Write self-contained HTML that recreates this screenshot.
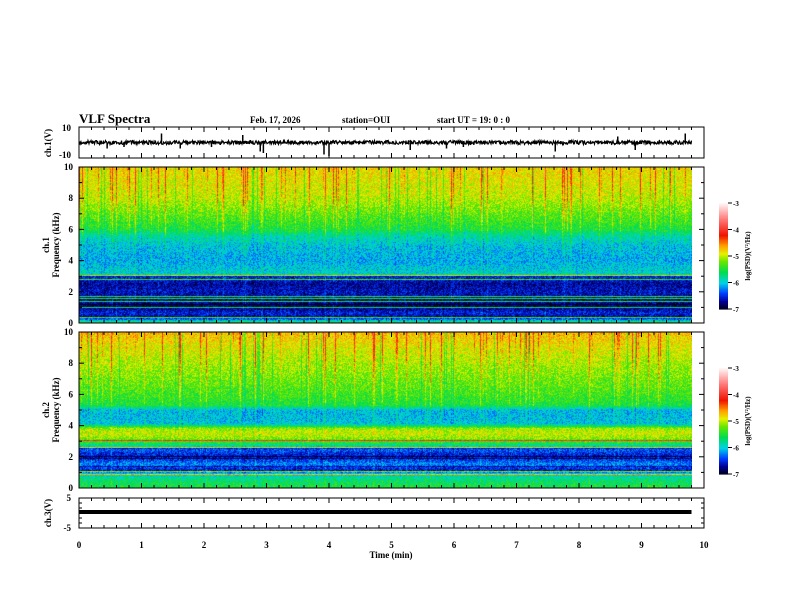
<!DOCTYPE html>
<html><head><meta charset="utf-8">
<style>
html,body{margin:0;padding:0;background:#fff;}
#wrap{position:relative;width:792px;height:612px;overflow:hidden;font-family:"Liberation Serif",serif;}
canvas{position:absolute;}
svg{position:absolute;left:0;top:0;}
text{font-family:"Liberation Serif",serif;font-weight:bold;fill:#000;}
</style></head><body>
<div id="wrap">
<canvas id="spec1" width="613" height="156" style="left:79px;top:167px"></canvas>
<canvas id="spec2" width="613" height="156" style="left:79px;top:332px"></canvas>
<svg id="fig" width="792" height="612"></svg>
</div>
<script>
// ---- data ----
const timeTicks = [0,1,2,3,4,5,6,7,8,9,10];
const freqTicks = [0,2,4,6,8,10];
const cbarTicks = [-3,-4,-5,-6,-7];
const ch1Freq = [0, 0.2, 0.4, 0.6, 1.0, 1.5, 2.0, 2.5, 2.9, 3.1, 3.5, 4.0, 5.0, 5.6, 6.0, 7.0, 8.0, 9.0, 10.0];
const ch1Level = [-5.5,-6.3,-6.7,-6.5,-6.8,-6.7,-6.6,-6.7,-6.5,-5.9,-6.0,-6.1,-6.0,-5.8,-5.5,-5.25,-5.0,-4.9,-4.8];
const ch2Freq = [0, 0.5, 0.9, 1.1, 1.5, 2.0, 2.5, 2.8, 3.2, 3.5, 3.8, 4.1, 5.0, 5.3, 6.0, 7.0, 8.0, 9.0, 10.0];
const ch2Level = [-5.5,-5.7,-6.0,-6.6,-6.2,-6.6,-6.3,-5.6,-5.1,-4.95,-5.1,-6.0,-6.05,-5.5,-5.35,-5.2,-5.05,-4.9,-4.7];
const spikeTimes = [0.45,0.72,1.32,1.62,2.12,2.62,2.9,2.95,3.92,4.0,5.3,5.88,6.15,7.62,8.62,8.9,9.7];
const spikeVals  = [-4,-3,6,-4,-3,5,-6,-7,-8,-9,-5,-4,-3,-6,4,-5,6];
const ch3Value = 0;
const tEnd = 9.8;

const X0=79, X1=704;
const xs = t => X0 + (t/10)*(X1-X0);
const NS='http://www.w3.org/2000/svg';
const svg=document.getElementById('fig');
function el(tag,attrs,parent){const e=document.createElementNS(NS,tag);for(const k in attrs)e.setAttribute(k,attrs[k]);(parent||svg).appendChild(e);return e;}
function txt(x,y,s,size,anchor,name,rot){const e=el('text',{x:x,y:y,'font-size':size,'text-anchor':anchor||'start'});if(rot)e.setAttribute('transform',`rotate(-90 ${x} ${y})`);e.textContent=s;

return e;}

const cstops=[[-7,[0,0,20]],[-6.7,[0,0,150]],[-6.4,[0,60,255]],[-6.0,[0,210,230]],[-5.6,[0,220,80]],[-5.2,[100,230,0]],[-4.9,[230,240,0]],[-4.6,[255,160,0]],[-4.2,[240,20,0]],[-3.6,[255,120,120]],[-3,[255,245,245]]];
function cmap(v){if(v<=-7)return cstops[0][1];if(v>=-3)return cstops[cstops.length-1][1];
for(let i=0;i<cstops.length-1;i++){const a=cstops[i],b=cstops[i+1];if(v>=a[0]&&v<=b[0]){const f=(v-a[0])/(b[0]-a[0]);return a[1].map((c,j)=>c+(b[1][j]-c)*f);}}}
function interp(xa,ya,x){for(let i=0;i<xa.length-1;i++){if(x>=xa[i]&&x<=xa[i+1]){const f=(x-xa[i])/(xa[i+1]-xa[i]);return ya[i]+(ya[i+1]-ya[i])*f;}}return ya[ya.length-1];}
function hash(a,b){let h=(a*374761393+b*668265263)^0x5bd1e995;h=(h^(h>>>13))*1274126177;h^=h>>>16;return ((h>>>0)%10000)/10000;}

function drawSpec(id,fa,la,seed){
  const c=document.getElementById(id),ctx=c.getContext('2d');const W=c.width,H=c.height;
  const img=ctx.createImageData(W,H);
  const colBoost=[];for(let x=0;x<W;x++){const r=hash(x,seed);colBoost.push(r>0.87?(r-0.87)*6:(r<0.06?-0.4:0));}
  const rowOff=[];for(let y=0;y<H;y++){const r=hash(seed+7,y);rowOff.push(r>0.9?1.2:(r<0.05?-0.3:0));}
  for(let y=0;y<H;y++){const f=10*(1-y/(H-1));const base=interp(fa,la,f);
    for(let x=0;x<W;x++){let v=base+(hash(x*3+seed,y*7)-0.5)*0.55;
      const hi=Math.max(0,(f-4)/6);v+=colBoost[x]*(0.2+hi*1.0);
      if(f<3.2) v+=rowOff[y];
      const col=cmap(v);const i=(y*W+x)*4;img.data[i]=col[0];img.data[i+1]=col[1];img.data[i+2]=col[2];img.data[i+3]=255;}}
  ctx.putImageData(img,0,0);
}
drawSpec('spec1',ch1Freq,ch1Level,11);
drawSpec('spec2',ch2Freq,ch2Level,29);

function frame(y0,y1,name){const r=el('rect',{x:X0,y:y0,width:X1-X0,height:y1-y0,fill:'none',stroke:'#000','stroke-width':1});


  timeTicks.forEach((t)=>{for(let k=0;k<5&&t+k*0.2<=10;k++){const x=xs(t+k*0.2),L=k==0?5:3;el('line',{x1:x,y1:y0,x2:x,y2:y0+L,stroke:'#000'});el('line',{x1:x,y1:y1,x2:x,y2:y1-L,stroke:'#000'});}});
}
txt(79,123,'VLF Spectra',13,'start','title');
txt(250,123,'Feb. 17, 2026',9,'start','date-label');
txt(342,123,'station=OUI',9,'start','station-label');
txt(437,123,'start  UT =   19: 0  : 0',9,'start','start-time-label');

frame(127,158,'ch1-waveform-frame');
txt(71,131,'10',9,'end','ch1-ytick-10');txt(71,158,'-10',9,'end','ch1-ytick-neg10');
txt(51,143,'ch.1(V)',9,'middle','ch1-wave-ylabel',true);
const wy=v=>142.5-v*1.5;
let d='';for(let x=X0;x<=xs(tEnd);x+=0.5){const n=(hash(Math.round(x*2),5)-0.5)*2.6;d+=(x==X0?'M':'L')+x+' '+(wy(n)).toFixed(1)+' ';}
const wp=el('path',{d:d,stroke:'#000','stroke-width':1.2,fill:'none'});


spikeTimes.forEach((t,i)=>{const l=el('line',{x1:xs(t),y1:wy(0),x2:xs(t),y2:wy(spikeVals[i]),stroke:'#000','stroke-width':1.5});

});

function specFrame(y0,y1,label,pre){frame(y0,y1,pre+'-spectrogram-frame');
  freqTicks.forEach(f=>{const y=y1-(f/10)*(y1-y0);txt(73,y+3,String(f),9,'end',pre+'-freq-tick');
    el('line',{x1:X0,y1:y,x2:X0+5,y2:y,stroke:'#000'});el('line',{x1:X1,y1:y,x2:X1-5,y2:y,stroke:'#000'});
    if(f<10){const ym=y-(y1-y0)/10;el('line',{x1:X0,y1:ym,x2:X0+3,y2:ym,stroke:'#000'});el('line',{x1:X1,y1:ym,x2:X1-3,y2:ym,stroke:'#000'});}});
  txt(49,(y0+y1)/2,label,9,'middle',pre+'-ylabel',true);
  txt(59,(y0+y1)/2,'Frequency  (kHz)',9,'middle',pre+'-freq-label',true);
}
specFrame(167,323,'ch.1','ch1');
specFrame(332,488,'ch.2','ch2');

function cbar(y0,y1,pre){const g=el('g',{});
  const n=80;for(let i=0;i<n;i++){const v=-3-4*(i/n);const c=cmap(v);el('rect',{x:719,y:y0+(y1-y0)*i/n,width:9,height:(y1-y0)/n+0.6,fill:`rgb(${c.map(Math.round).join(',')})`},g);}
  cbarTicks.forEach(t=>{const y=y0+(y1-y0)*(-3-t)/4;el('line',{x1:728,y1:y,x2:732,y2:y,stroke:'#000'});txt(733,y+3,String(t),7,'start',pre+'-cbar-tick');});
  txt(750,(y0+y1)/2,'log(PSD)(V²/Hz)',7,'middle',pre+'-cbar-label',true);}
cbar(203,309,'ch1');cbar(368,474,'ch2');

frame(498,528,'ch3-frame');
txt(71,501,'5',9,'end','ch3-ytick-5');txt(71,531,'-5',9,'end','ch3-ytick-neg5');
txt(51,513,'ch.3(V)',9,'middle','ch3-ylabel',true);
[503,508,518,523].forEach(y=>{el('line',{x1:X0,y1:y,x2:X0+3,y2:y,stroke:'#000'});el('line',{x1:X1,y1:y,x2:X1-3,y2:y,stroke:'#000'});});
const c3=el('line',{x1:X0,y1:512-ch3Value*3,x2:xs(tEnd),y2:512-ch3Value*3,stroke:'#000','stroke-width':4});


timeTicks.forEach(t=>txt(xs(t),548,String(t),9,'middle','time-tick'));
txt(391,558,'Time  (min)',9,'middle','x-axis-title');
</script>
</body></html>
